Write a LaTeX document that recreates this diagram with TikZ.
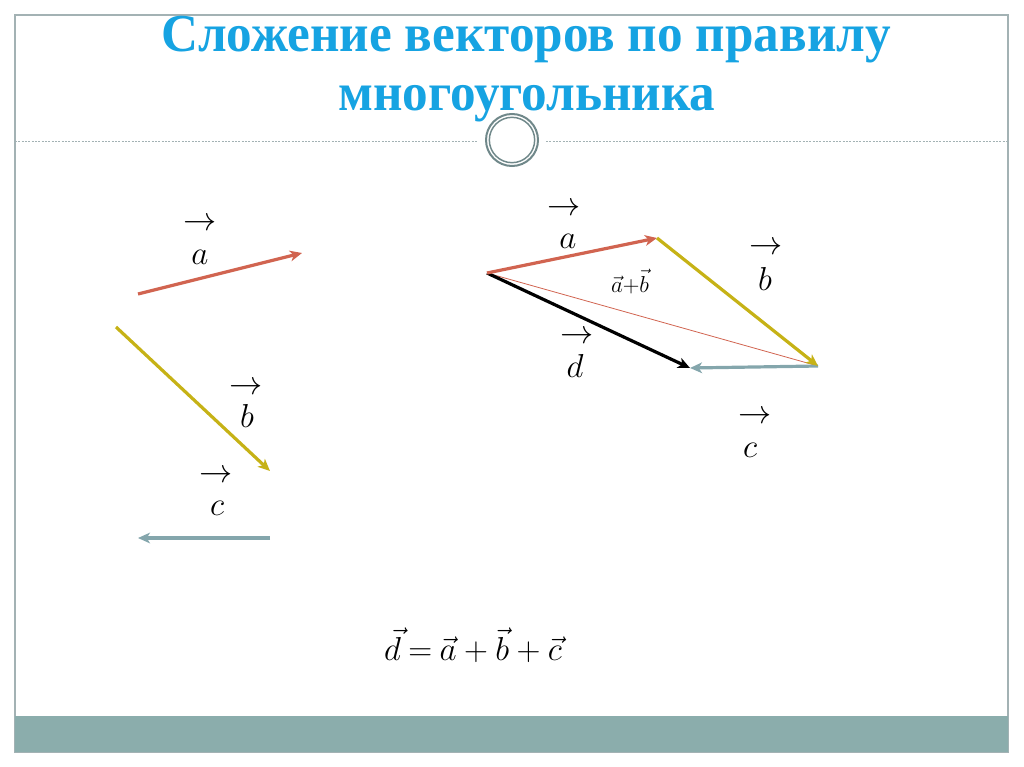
\documentclass[tikz,border=0pt]{standalone}
\usepackage{fontspec}
\setmainfont{Liberation Serif}
\usetikzlibrary{arrows.meta,positioning}
\definecolor{titleblue}{RGB}{22,163,226}
\definecolor{framegray}{RGB}{163,178,180}
\definecolor{bargray}{RGB}{139,173,172}
\definecolor{ringgray}{RGB}{112,136,138}
\definecolor{vecred}{RGB}{209,100,80}
\definecolor{vecyellow}{RGB}{198,178,22}
\definecolor{vecblue}{RGB}{132,166,172}

\begin{document}
\begin{tikzpicture}[x=0.75pt,y=-0.75pt,
    vec/.style={line width=2.4pt,-{Stealth[length=9pt,width=8pt,inset=2.5pt]}},
    lbl/.style={anchor=base,inner sep=0pt,font=\fontsize{26}{31}\selectfont},
    arr/.style={inner sep=0pt,font=\fontsize{26}{31}\selectfont},
    title/.style={anchor=base,inner sep=0pt,text=titleblue,font=\bfseries\fontsize{40}{48}\selectfont}]
    \useasboundingbox (0,0) rectangle (1024,767);
    % frame, bar and rule
    \draw[framegray,line width=0.8pt] (15,15) rectangle (1008,752);
    \fill[bargray] (15,716) rectangle (1008,752);
    \draw[framegray,line width=0.6pt,dash pattern=on 1.5pt off 1pt] (15,141) -- (478,141);
    \draw[framegray,line width=0.6pt,dash pattern=on 1.5pt off 1pt] (546,141) -- (1008,141);
    \node[title] (t1) at (526,52) {\scalebox{0.96}[1]{Сложение векторов по правилу}};
    \node[title] (t2) at (527,110) {\scalebox{0.96}[1]{многоугольника}};
    \node[circle,draw=ringgray,fill=white,line width=1.5pt,minimum size=39pt,inner sep=0pt] (ring) at (512,140) {};
    \node[circle,draw=ringgray,line width=1.1pt,minimum size=34pt,inner sep=0pt] at (ring) {};
    % separate vectors
    \coordinate (a0) at (138,294);
    \coordinate (a1) at (302,253);
    \coordinate (b0) at (116,327);
    \coordinate (b1) at (270,471);
    \coordinate (c0) at (270,538);
    \coordinate (c1) at (138,538);
    \path
    (a0) edge[vec,vecred] (a1)
    (b0) edge[vec,vecyellow] (b1)
    (c0) edge[vec,vecblue] (c1);
    \node[lbl] (la) at (200,264) {$a$};
    \node[arr] at (200,224) {$\rightarrow$};
    \node[lbl] (lb) at (247,427) {$b$};
    \node[arr] at (246,388) {$\rightarrow$};
    \node[lbl] (lc) at (217,515) {$c$};
    \node[arr] at (216,476) {$\rightarrow$};
    % polygon
    \coordinate (O) at (487,273);
    \coordinate (A) at (657,238);
    \coordinate (B) at (818,366);
    \coordinate (C) at (690,368);
    \path
    (O) edge[vecred,line width=0.6pt] (B)
    (O) edge[vec,black] (C)
    (B) edge[vec,vecblue] (C)
    (O) edge[vec,vecred] (A)
    (A) edge[vec,vecyellow] (B);
    \node[lbl] (pa) at (568,248) {$a$};
    \node[arr] at (564,209) {$\rightarrow$};
    \node[lbl] (pb) at (765,290) {$b$};
    \node[arr] at (766,248) {$\rightarrow$};
    \node[lbl] (pd) at (575,377) {$d$};
    \node[arr] at (577,337) {$\rightarrow$};
    \node[lbl] (pc) at (750,457) {$c$};
    \node[arr] at (755,417) {$\rightarrow$};
    \node[lbl,font=\fontsize{19}{23}\selectfont] (ab) at (630,292) {$\vec{a}{+}\vec{b}$};
    \node[lbl,font=\fontsize{36}{43}\selectfont] (sum) at (473,660)
        {$\vec{d}\mkern4mu{=}\mkern4mu\vec{a}\mkern4mu{+}\mkern4mu\vec{b}\mkern4mu{+}\mkern4mu\vec{c}$};
\end{tikzpicture}
\end{document}
